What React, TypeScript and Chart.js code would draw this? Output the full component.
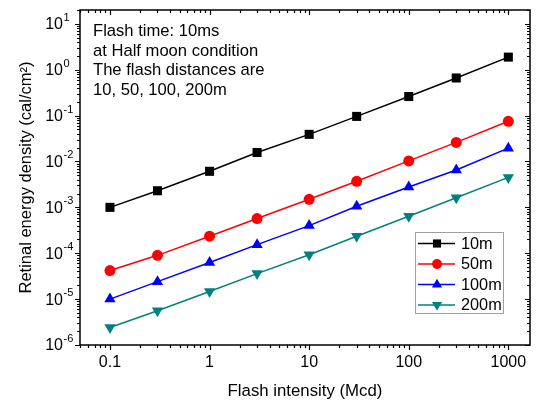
import React, { useEffect, useRef } from 'react';
import { Chart, registerables } from 'chart.js';
import { drawPoint } from 'chart.js/helpers';

Chart.register(...registerables);

const FONT = "'Liberation Sans', Arial, Helvetica, sans-serif";

// ---- data ----
const intensities = [0.1, 0.3, 1, 3, 10, 30, 100, 300, 1000];
const seriesLabels = ['10m', '50m', '100m', '200m'];
const energy10m = [1.0e-3, 2.3e-3, 6.1e-3, 1.57e-2, 3.9e-2, 9.6e-2, 0.26, 0.66, 1.88];
const energy50m = [4.2e-5, 9.0e-5, 2.35e-4, 5.7e-4, 1.5e-3, 3.7e-3, 1.03e-2, 2.6e-2, 7.5e-2];
const energy100m = [1.0e-5, 2.4e-5, 6.3e-5, 1.54e-4, 4.0e-4, 1.06e-3, 2.77e-3, 6.5e-3, 1.95e-2];
const energy200m = [2.4e-6, 5.6e-6, 1.47e-5, 3.6e-5, 9.3e-5, 2.34e-4, 6.4e-4, 1.62e-3, 4.5e-3];
const xTickValues = [0.1, 1, 10, 100, 1000];
const yTickExponents = [-6, -5, -4, -3, -2, -1, 0, 1];
const xAxisTitle = 'Flash intensity (Mcd)';
const yAxisTitle = 'Retinal energy density (cal/cm\u00B2)';
const annotationLines = [
  'Flash time: 10ms',
  'at Half moon condition',
  'The flash distances are',
  '10, 50, 100, 200m',
];

const seriesValues = [energy10m, energy50m, energy100m, energy200m];
const seriesColors = ['#000000', '#ff0000', '#0000ff', '#008080'];
const seriesStyles = ['rect', 'circle', 'triangle', 'triangle'];
const seriesRotations = [0, 0, 0, 180];
const seriesRadius = [6.4, 5.5, 6.5, 6.5];

const decorPlugin = {
  id: 'decor',
  afterDraw(chart: any) {
    const { ctx, chartArea } = chart;
    const xs = chart.scales.x;
    const ys = chart.scales.y;
    const { left, right, top, bottom } = chartArea;
    ctx.save();

    // frame
    ctx.strokeStyle = '#000';
    ctx.lineWidth = 1.5;
    ctx.strokeRect(left, top, right - left, bottom - top);

    // tick marks
    ctx.lineWidth = 1.2;
    ctx.beginPath();
    for (let e = -3; e <= 4; e++) {
      for (let m = 1; m <= 9; m++) {
        const v = m * Math.pow(10, e);
        if (v < xs.min || v > xs.max) continue;
        const px = Math.round(xs.getPixelForValue(v)) + 0.5;
        const len = m === 1 ? 5 : 3;
        ctx.moveTo(px, bottom);
        ctx.lineTo(px, bottom + len);
        ctx.moveTo(px, top);
        ctx.lineTo(px, top + len);
      }
    }
    for (let e = -7; e <= 2; e++) {
      for (let m = 1; m <= 9; m++) {
        const v = m * Math.pow(10, e);
        if (v < ys.min || v > ys.max) continue;
        const py = Math.round(ys.getPixelForValue(v)) + 0.5;
        const len = m === 1 ? 5 : 3;
        ctx.moveTo(left - len, py);
        ctx.lineTo(left, py);
        ctx.moveTo(right - len, py);
        ctx.lineTo(right, py);
      }
    }
    ctx.stroke();

    // y tick labels 10^n
    ctx.fillStyle = '#000';
    for (const e of yTickExponents) {
      const py = ys.getPixelForValue(Math.pow(10, e));
      const baseRight = left - 17;
      ctx.font = `16px ${FONT}`;
      ctx.textAlign = 'right';
      ctx.textBaseline = 'middle';
      ctx.fillText('10', baseRight, py + 1);
      ctx.font = `11px ${FONT}`;
      ctx.textAlign = 'left';
      ctx.fillText(String(e), baseRight + 0.5, py - 6);
    }

    // annotation
    ctx.font = `16.6px ${FONT}`;
    ctx.textAlign = 'left';
    ctx.textBaseline = 'alphabetic';
    annotationLines.forEach((line, i) => {
      ctx.fillText(line, left + 13, top + 26 + i * 19.7);
    });

    // legend
    const bx = right - 115;
    const by = top + 222;
    const bw = 88;
    const bh = 81;
    ctx.strokeStyle = '#a0a0a0';
    ctx.lineWidth = 1;
    ctx.strokeRect(bx + 0.5, by + 0.5, bw, bh);
    chart.data.datasets.forEach((ds: any, i: number) => {
      const cy = by + 11.5 + i * 20.5;
      ctx.strokeStyle = ds.borderColor;
      ctx.lineWidth = 1.5;
      ctx.beginPath();
      ctx.moveTo(bx + 3, cy);
      ctx.lineTo(bx + 40, cy);
      ctx.stroke();
      ctx.fillStyle = ds.pointBackgroundColor;
      ctx.strokeStyle = ds.pointBorderColor;
      drawPoint(
        ctx,
        {
          pointStyle: ds.pointStyle,
          radius: ds.pointRadius * 0.9,
          rotation: ds.pointRotation,
          borderWidth: 0,
        } as any,
        bx + 22,
        cy
      );
      ctx.fillStyle = '#000';
      ctx.font = `16.3px ${FONT}`;
      ctx.textAlign = 'left';
      ctx.textBaseline = 'middle';
      ctx.fillText(ds.label, bx + 46, cy + 1);
    });

    ctx.restore();
  },
};

export default function App() {
  const canvasRef = useRef<HTMLCanvasElement | null>(null);

  useEffect(() => {
    document.body.style.margin = '0';
    document.body.style.overflow = 'hidden';
    const canvas = canvasRef.current;
    if (!canvas) return;

    const datasets = seriesLabels.map((label, i) => ({
      label,
      data: intensities.map((x, j) => ({ x, y: seriesValues[i][j] })),
      borderColor: seriesColors[i],
      backgroundColor: seriesColors[i],
      pointBackgroundColor: seriesColors[i],
      pointBorderColor: seriesColors[i],
      pointBorderWidth: 0,
      pointStyle: seriesStyles[i],
      pointRotation: seriesRotations[i],
      pointRadius: seriesRadius[i],
      borderWidth: 1.5,
      tension: 0,
      fill: false,
    }));

    const chart = new Chart(canvas, {
      type: 'line',
      data: { datasets },
      options: {
        responsive: false,
        animation: false,
        devicePixelRatio: 1,
        layout: { padding: { top: 10, right: 12, left: 0, bottom: 0 } },
        plugins: {
          legend: { display: false },
          tooltip: { enabled: false },
        },
        scales: {
          x: {
            type: 'logarithmic',
            position: 'bottom',
            min: 0.05,
            max: 1650,
            afterBuildTicks: (s: any) => {
              s.ticks = xTickValues.map((v) => ({ value: v }));
            },
            afterFit: (s: any) => {
              s.height = 59;
            },
            grid: { display: false, drawTicks: false, drawOnChartArea: false },
            border: { display: false },
            ticks: {
              color: '#000',
              font: { family: FONT, size: 16 },
              padding: 8,
              maxRotation: 0,
              autoSkip: false,
              callback: (v: any) => String(v),
            },
            title: {
              display: true,
              text: xAxisTitle,
              color: '#000',
              font: { family: FONT, size: 16.8 },
              padding: { top: 0, bottom: 3 },
            },
          },
          y: {
            type: 'logarithmic',
            position: 'left',
            min: 1e-6,
            max: 20,
            afterBuildTicks: (s: any) => {
              s.ticks = yTickExponents.map((e) => ({ value: Math.pow(10, e) }));
            },
            afterFit: (s: any) => {
              s.width = 80;
            },
            grid: { display: false, drawTicks: false, drawOnChartArea: false },
            border: { display: false },
            ticks: { display: false },
            title: {
              display: true,
              text: yAxisTitle,
              color: '#000',
              font: { family: FONT, size: 16.5 },
              padding: { top: 17, bottom: 0 },
            },
          },
        },
      } as any,
      plugins: [decorPlugin],
    });

    return () => {
      chart.destroy();
    };
  }, []);

  return (
    <div style={{ width: 542, height: 404, position: 'relative', background: '#fff' }}>
      <canvas ref={canvasRef} width={542} height={404} />
    </div>
  );
}
